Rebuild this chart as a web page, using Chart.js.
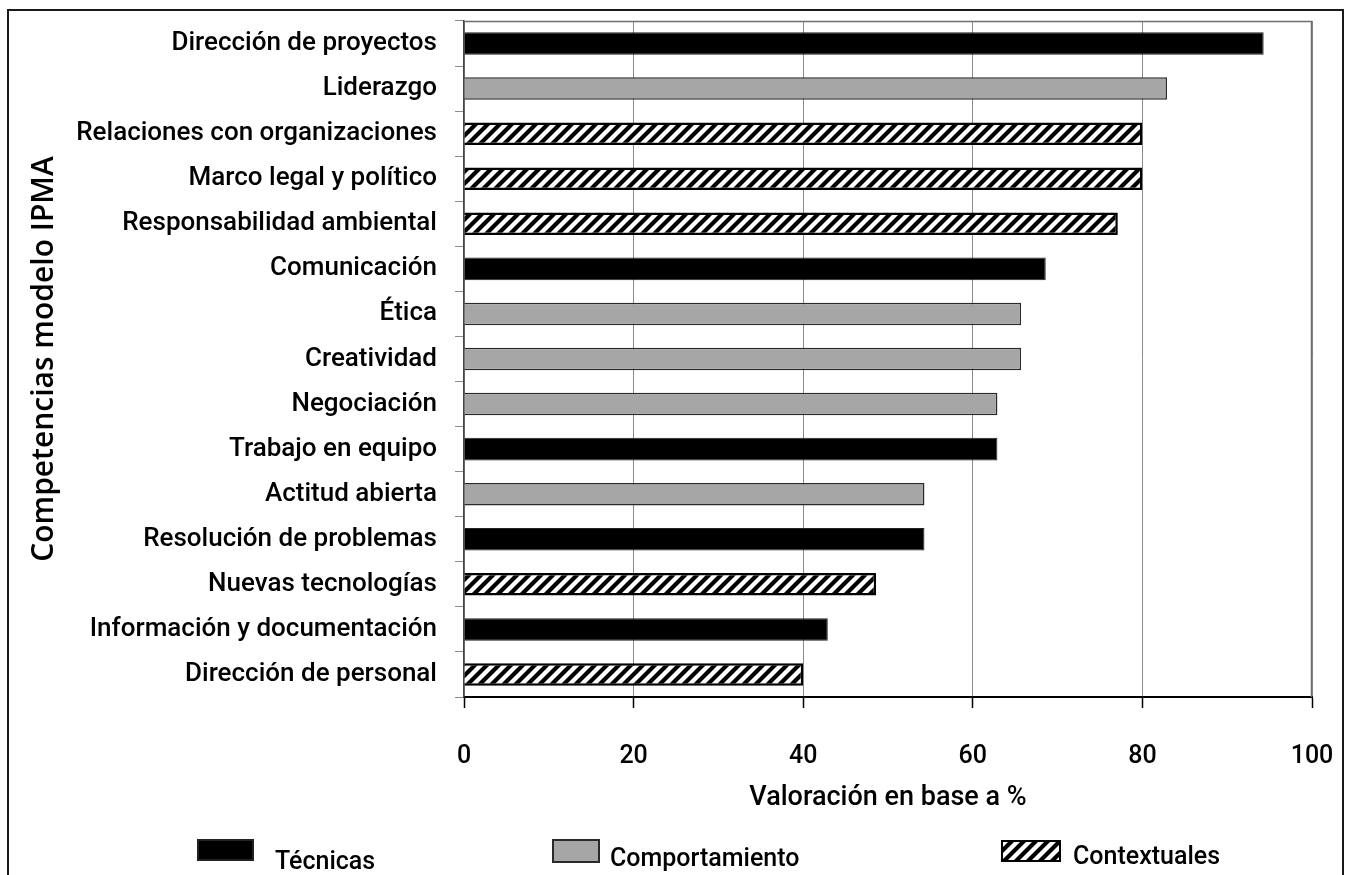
<!DOCTYPE html>
<html lang="es">
<head>
<meta charset="utf-8">
<title>Competencias modelo IPMA</title>
<script src="https://cdn.jsdelivr.net/npm/chart.js@4.4.1/dist/chart.umd.min.js"></script>
<style>
  html, body { margin: 0; padding: 0; background: #fff; overflow: hidden; }
  #wrap { position: relative; width: 1348px; height: 875px; }
  #frame { position: absolute; left: 7px; top: 9px; width: 1337px; height: 900px; border: 2px solid #1a1a1a; box-sizing: border-box; pointer-events: none; }
  #chart { position: absolute; left: 0; top: 0; }
  .leg-box { position: absolute; }
  .leg-text { position: absolute; font-family: Roboto, sans-serif; font-weight: 500; font-size: 25px; line-height: 25px; color: #000; white-space: nowrap; }
</style>
</head>
<body>
<div id="wrap">
  <canvas id="chart" width="1348" height="875"></canvas>
  <div id="legend"></div>
  <div id="frame"></div>
</div>
<script>
// datos
const categories = [
  'Dirección de proyectos',
  'Liderazgo',
  'Relaciones con organizaciones',
  'Marco legal y político',
  'Responsabilidad ambiental',
  'Comunicación',
  'Ética',
  'Creatividad',
  'Negociación',
  'Trabajo en equipo',
  'Actitud abierta',
  'Resolución de problemas',
  'Nuevas tecnologías',
  'Información y documentación',
  'Dirección de personal'
];
const tecnicas       = [94.3, null, null, null, null, 68.6, null, null, null, 62.9, null, 54.3, null, 42.9, null];
const comportamiento = [null, 82.9, null, null, null, null, 65.7, 65.7, 62.9, null, 54.3, null, null, null, null];
const contextuales   = [null, null, 80.0, 80.0, 77.1, null, null, null, null, null, null, null, 48.6, null, 40.0];
const xTicks = [0, 20, 40, 60, 80, 100];
const seriesNames = ['Técnicas', 'Comportamiento', 'Contextuales'];

const labelFont = 'Roboto, sans-serif';

// trama rayada para "Contextuales"
const tile = document.createElement('canvas');
const S = 12;
tile.width = S; tile.height = S;
const tg = tile.getContext('2d');
tg.fillStyle = '#fff';
tg.fillRect(0, 0, S, S);
tg.strokeStyle = '#000';
tg.lineWidth = 4.2;
tg.beginPath();
tg.moveTo(-S / 2, S / 2); tg.lineTo(S / 2, -S / 2);
tg.moveTo(0, S); tg.lineTo(S, 0);
tg.moveTo(S / 2, S * 1.5); tg.lineTo(S * 1.5, S / 2);
tg.stroke();

const ctx = document.getElementById('chart').getContext('2d');
const hatch = ctx.createPattern(tile, 'repeat');

const plotFrame = {
  id: 'plotFrame',
  beforeDatasetsDraw(chart) {
    const { ctx, chartArea: a } = chart;
    ctx.save();
    ctx.strokeStyle = '#6e6e6e';
    ctx.lineWidth = 1.5;
    ctx.beginPath();
    ctx.moveTo(a.left, a.top + 0.5);
    ctx.lineTo(a.right - 0.5, a.top + 0.5);
    ctx.lineTo(a.right - 0.5, a.bottom);
    ctx.stroke();
    ctx.restore();
  }
};

const chart = new Chart(ctx, {
  type: 'bar',
  data: {
    labels: categories,
    datasets: [
      { label: seriesNames[0], data: tecnicas, backgroundColor: '#000', borderColor: '#222', borderWidth: 1 },
      { label: seriesNames[1], data: comportamiento, backgroundColor: '#a6a6a6', borderColor: '#2a2a2a', borderWidth: 1.5 },
      { label: seriesNames[2], data: contextuales, backgroundColor: hatch, borderColor: '#000', borderWidth: 2.5 }
    ]
  },
  options: {
    indexAxis: 'y',
    responsive: false,
    animation: false,
    datasets: { bar: { grouped: false, categoryPercentage: 1, barPercentage: 0.5 } },
    layout: { padding: { top: 21, right: 36, bottom: 53, left: 0 } },
    plugins: {
      legend: { display: false },
      tooltip: { enabled: false }
    },
    scales: {
      x: {
        min: 0,
        max: 100,
        afterBuildTicks: axis => { axis.ticks = xTicks.map(v => ({ value: v })); },
        afterFit: scale => {
          scale.height = 125;
          scale.paddingLeft = 0;
          scale.paddingRight = 0;
        },
        grid: { color: '#8a8a8a', lineWidth: 1, drawTicks: true, tickLength: 11, tickColor: '#000', tickWidth: 1.5 },
        border: { color: '#000', width: 2 },
        ticks: { padding: 34, color: '#000', font: { family: labelFont, size: 25, weight: '500' } },
        title: {
          display: true,
          text: 'Valoración en base a %',
          color: '#000',
          font: { family: labelFont, size: 27, weight: '500' },
          padding: { top: 0, bottom: 8 }
        }
      },
      y: {
        afterFit: scale => {
          scale.width = 464;
          scale.paddingTop = 0;
          scale.paddingBottom = 0;
        },
        grid: { offset: true, drawOnChartArea: false, drawTicks: true, tickLength: 9, tickColor: '#8a8a8a' },
        border: { color: '#444', width: 1.5 },
        ticks: { padding: 18, color: '#000', font: { family: labelFont, size: 26, weight: '500' } },
        title: {
          display: true,
          text: 'Competencias modelo IPMA',
          color: '#000',
          font: { family: "'Open Sans', sans-serif", size: 30, weight: '600' },
          padding: { top: 26, bottom: 0 }
        }
      }
    }
  },
  plugins: [plotFrame]
});

// leyenda HTML a partir de los elementos de leyenda de Chart.js
const legendPos = [
  { box: [197, 839, 57, 22], text: [275, 848] },
  { box: [552, 839, 48, 24], text: [610, 845] },
  { box: [1001, 840, 60, 22], text: [1073, 843] }
];
const legendEl = document.getElementById('legend');
chart.options.plugins.legend.labels.generateLabels(chart).forEach((item, i) => {
  const p = legendPos[i];
  const c = document.createElement('canvas');
  c.className = 'leg-box';
  c.width = p.box[2]; c.height = p.box[3];
  c.style.left = p.box[0] + 'px';
  c.style.top = p.box[1] + 'px';
  const g = c.getContext('2d');
  g.fillStyle = i === 2 ? g.createPattern(tile, 'repeat') : item.fillStyle;
  g.fillRect(0, 0, c.width, c.height);
  g.strokeStyle = item.strokeStyle;
  g.lineWidth = 2;
  g.strokeRect(1, 1, c.width - 2, c.height - 2);
  legendEl.appendChild(c);
  const t = document.createElement('div');
  t.className = 'leg-text';
  t.style.left = p.text[0] + 'px';
  t.style.top = p.text[1] + 'px';
  t.textContent = item.text;
  legendEl.appendChild(t);
});
</script>
</body>
</html>
